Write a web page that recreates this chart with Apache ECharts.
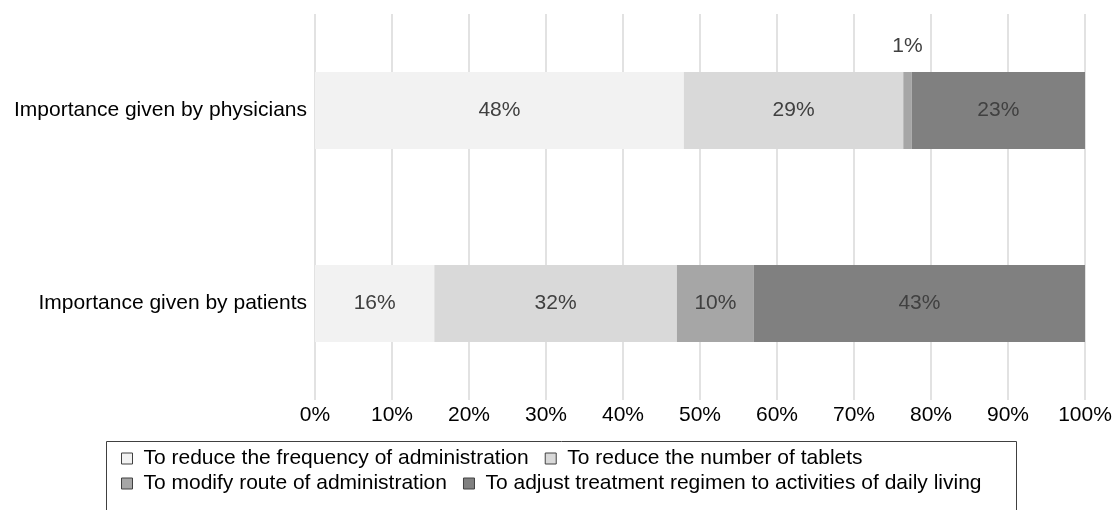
<!DOCTYPE html>
<html>
<head>
<meta charset="utf-8">
<script src="https://cdn.jsdelivr.net/npm/echarts@6/dist/echarts.min.js"></script>
<style>html,body{margin:0;padding:0;background:#fff;}#c{width:1115px;height:510px;}</style>
</head>
<body>
<div id="c"></div>
<script>
const categories = ['Importance given by physicians', 'Importance given by patients'];
const seriesNames = [
  'To reduce the frequency of administration',
  'To reduce the number of tablets',
  'To modify route of administration',
  'To adjust treatment regimen to activities of daily living'
];
const freqValues = [47.9, 15.5];
const tabletValues = [28.5, 31.5];
const routeValues = [1.1, 10.0];
const adjustValues = [22.5, 43.0];
const xTicks = [0, 10, 20, 30, 40, 50, 60, 70, 80, 90, 100];

const colors = ['#f2f2f2', '#d9d9d9', '#a6a6a6', '#808080'];
const FONT = 'Liberation Sans, Arial, sans-serif';
const FS = 21;

function mkSeries(i, values, labelOverrides) {
  return {
    name: seriesNames[i],
    type: 'bar',
    stack: 'total',
    barWidth: 77,
    itemStyle: { color: colors[i] },
    label: {
      show: true,
      position: 'inside',
      color: '#404040',
      fontSize: FS,
      fontFamily: FONT,
      formatter: p => Math.round(p.value) + '%'
    },
    data: values.map((v, k) => {
      const o = { value: v };
      if (labelOverrides && labelOverrides[k]) o.label = labelOverrides[k];
      return o;
    })
  };
}

const chart = echarts.init(document.getElementById('c'));
const legendCommon = {
  left: 116,
  itemWidth: 11,
  itemHeight: 11,
  icon: 'rect',
  itemGap: 16,
  itemStyle: { borderColor: '#404040', borderWidth: 1 },
  textStyle: { color: '#000', fontSize: FS, fontFamily: FONT, padding: [0, 0, 0, 6] }
};
chart.setOption({
  animation: false,
  textStyle: { fontFamily: FONT },
  grid: { left: 315, right: 30, top: 14, bottom: 110 },
  xAxis: {
    type: 'value',
    min: 0, max: 100, interval: 10,
    axisLine: { show: false },
    axisTick: { show: false },
    splitLine: { show: true, lineStyle: { color: '#d9d9d9', width: 1.5 } },
    axisLabel: { color: '#000', fontSize: FS, fontFamily: FONT, margin: 5,
      formatter: v => xTicks.includes(v) ? v + '%' : '' }
  },
  yAxis: {
    type: 'category',
    inverse: true,
    data: categories,
    axisLine: { show: false },
    axisTick: { show: false },
    axisLabel: { color: '#000', fontSize: FS, fontFamily: FONT, margin: 8 }
  },
  legend: [
    Object.assign({}, legendCommon, { top: 443, data: [seriesNames[0], seriesNames[1]] }),
    Object.assign({}, legendCommon, { top: 468, data: [seriesNames[2], seriesNames[3]] })
  ],
  graphic: [{
    type: 'rect',
    shape: { x: 106.5, y: 441.5, width: 910, height: 100 },
    style: { fill: 'none', stroke: '#404040', lineWidth: 1 },
    silent: true
  }],
  series: [
    mkSeries(0, freqValues),
    mkSeries(1, tabletValues),
    mkSeries(2, routeValues, [{ position: 'top', distance: 15 }, null]),
    mkSeries(3, adjustValues)
  ]
});
</script>
</body>
</html>
